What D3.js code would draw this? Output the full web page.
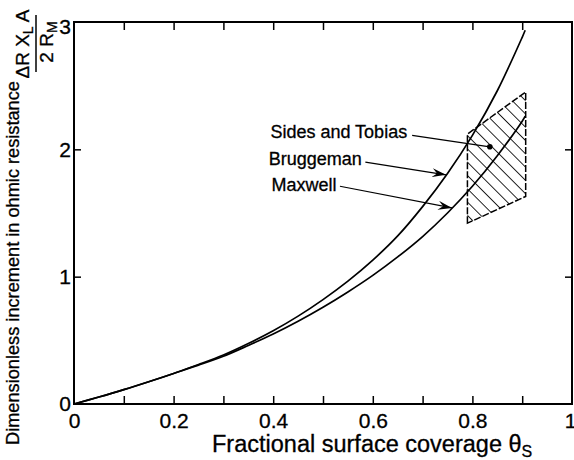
<!DOCTYPE html>
<html>
<head>
<meta charset="utf-8">
<script src="https://cdn.jsdelivr.net/npm/d3@7"></script>
<style>
  body { margin: 0; background: #fff; }
  svg { display: block; font-family: "Liberation Sans", Arial, sans-serif; }
  text { stroke: #000; stroke-width: 0.3px; }
</style>
</head>
<body>
<svg id="chart" width="574" height="460"></svg>
<script>
// values
const theta      = [0, 0.05, 0.1, 0.15, 0.2, 0.25, 0.3, 0.35, 0.4, 0.45, 0.5, 0.55, 0.6, 0.65, 0.7, 0.75, 0.8, 0.85, 0.9, 0.906];
const bruggeman  = [0, 0.055, 0.113, 0.175, 0.24, 0.31, 0.385, 0.475, 0.575, 0.69, 0.82, 0.965, 1.13, 1.32, 1.55, 1.81, 2.11, 2.46, 2.88, 2.935];
const maxwell    = [0, 0.055, 0.113, 0.175, 0.24, 0.305, 0.375, 0.46, 0.55, 0.65, 0.76, 0.88, 1.01, 1.155, 1.315, 1.50, 1.71, 1.95, 2.22, 2.26];

// Sides and Tobias experimental band (corners)
const bandTheta = [0.79, 0.79, 0.907, 0.907];
const bandValue = [1.42, 2.12, 2.45, 1.63];

const xTicks = [0.1, 0.2, 0.3, 0.4, 0.5, 0.6, 0.7, 0.8, 0.9];
const xLabelTicks = [0, 0.2, 0.4, 0.6, 0.8, 1];
const xTickLabels = ['0', '0.2', '0.4', '0.6', '0.8', '1'];
const yTicks = [1, 2];
const yLabelTicks = [0, 1, 2, 3];
const yTickLabels = ['0', '1', '2', '3'];

// annotations: label, text end point, leader start, leader end (data units)
const labelNames  = ['Sides and Tobias', 'Bruggeman', 'Maxwell'];
const labelTheta  = [0.669, 0.578, 0.527];
const labelValue  = [2.09, 1.88, 1.67];
const leaderFrom  = [[0.679, 2.11], [0.585, 1.90], [0.534, 1.71]];
const leaderTo    = [[0.835, 2.02], [0.747, 1.80], [0.759, 1.54]];

const margin = {top: 22, right: 2, bottom: 56, left: 74};
const svg = d3.select('#chart');
const svgWidth = +svg.attr('width');
const svgHeight = +svg.attr('height');
const innerWidth = svgWidth - margin.left - margin.right;
const innerHeight = svgHeight - margin.top - margin.bottom;

const xScale = d3.scaleLinear().domain([0, 1]).range([0, innerWidth]);
const yScale = d3.scaleLinear().domain([0, 3]).range([innerHeight, 0]);

const defs = svg.append('defs');
defs.append('pattern')
    .attr('id', 'hatch')
    .attr('patternUnits', 'userSpaceOnUse')
    .attr('width', 9.4)
    .attr('height', 9.4)
    .attr('patternTransform', 'rotate(-45)')
    .append('line')
    .attr('x1', 0).attr('y1', 0)
    .attr('x2', 0).attr('y2', 9.4)
    .attr('stroke', '#000')
    .attr('stroke-width', 1.7);

defs.append('marker')
    .attr('id', 'arrow')
    .attr('viewBox', '0 0 14 9')
    .attr('refX', 14)
    .attr('refY', 4.5)
    .attr('markerWidth', 14)
    .attr('markerHeight', 9)
    .attr('markerUnits', 'userSpaceOnUse')
    .attr('orient', 'auto')
    .append('path')
    .attr('d', 'M0,0 L14,4.5 L0,9 L5,4.5 Z')
    .attr('fill', '#000');

const chartGroup = svg.append('g')
    .attr('transform', `translate(${margin.left}, ${margin.top})`);

const fontTick = '21px';

// inward ticks on all four sides
chartGroup.append('g')
    .attr('transform', `translate(0, ${innerHeight})`)
    .call(d3.axisBottom(xScale).tickValues(xTicks).tickSize(-8).tickFormat(''))
    .call(g => g.select('.domain').remove());
chartGroup.append('g')
    .call(d3.axisTop(xScale).tickValues(xTicks).tickSize(-8).tickFormat(''))
    .call(g => g.select('.domain').remove());
chartGroup.append('g')
    .call(d3.axisLeft(yScale).tickValues(yTicks).tickSize(-7).tickFormat(''))
    .call(g => g.select('.domain').remove());
chartGroup.append('g')
    .attr('transform', `translate(${innerWidth}, 0)`)
    .call(d3.axisRight(yScale).tickValues(yTicks).tickSize(-7).tickFormat(''))
    .call(g => g.select('.domain').remove());
chartGroup.selectAll('.tick line').attr('stroke-width', 1.5);

// tick labels
chartGroup.append('g')
    .attr('transform', `translate(0, ${innerHeight})`)
    .call(d3.axisBottom(xScale).tickValues(xLabelTicks).tickSize(0).tickPadding(9)
        .tickFormat((d, i) => xTickLabels[i]))
    .call(g => g.select('.domain').remove())
    .selectAll('text')
    .style('font-size', fontTick)
    .style('font-family', '"Liberation Sans", Arial, sans-serif')
    .attr('fill', '#000')
    .attr('text-anchor', (d, i) => i === xTickLabels.length - 1 ? 'end' : 'middle')
    .attr('dx', (d, i) => i === xTickLabels.length - 1 ? 4 : 0);

chartGroup.append('g')
    .call(d3.axisLeft(yScale).tickValues(yLabelTicks).tickSize(0).tickPadding(3)
        .tickFormat((d, i) => yTickLabels[i]))
    .call(g => g.select('.domain').remove())
    .selectAll('text')
    .style('font-size', fontTick)
    .style('font-family', '"Liberation Sans", Arial, sans-serif')
    .attr('fill', '#000')
    .attr('dy', (d, i) => i === yTickLabels.length - 1 ? '0.55em' : '0.32em');

// frame
chartGroup.append('rect')
    .attr('width', innerWidth)
    .attr('height', innerHeight)
    .attr('fill', 'none')
    .attr('stroke', '#000')
    .attr('stroke-width', 2);

// hatched band
const bandPts = bandTheta.map((t, i) => [xScale(t), yScale(bandValue[i])]);
chartGroup.append('path')
    .attr('d', 'M' + bandPts.join('L') + 'Z')
    .attr('fill', 'url(#hatch)')
    .attr('stroke', '#000')
    .attr('stroke-width', 1.5)
    .attr('stroke-dasharray', '7,2');

// curves
const line = d3.line()
    .x(d => xScale(d[0]))
    .y(d => yScale(d[1]))
    .curve(d3.curveCatmullRom);

[bruggeman, maxwell].forEach(series => {
    chartGroup.append('path')
        .datum(theta.map((t, i) => [t, series[i]]))
        .attr('d', line)
        .attr('fill', 'none')
        .attr('stroke', '#000')
        .attr('stroke-width', 1.7);
});

// labels and leaders
labelNames.forEach((name, i) => {
    chartGroup.append('text')
        .attr('x', xScale(labelTheta[i]))
        .attr('y', yScale(labelValue[i]))
        .attr('text-anchor', 'end')
        .style('font-size', '18px')
        .text(name);

    chartGroup.append('line')
        .attr('x1', xScale(leaderFrom[i][0]))
        .attr('y1', yScale(leaderFrom[i][1]))
        .attr('x2', xScale(leaderTo[i][0]))
        .attr('y2', yScale(leaderTo[i][1]))
        .attr('stroke', '#000')
        .attr('stroke-width', 1.2)
        .attr('marker-end', i === 0 ? null : 'url(#arrow)');
});
chartGroup.append('circle')
    .attr('cx', xScale(leaderTo[0][0]))
    .attr('cy', yScale(leaderTo[0][1]))
    .attr('r', 2.8)
    .attr('fill', '#000');

// x axis title
const xTitle = svg.append('text')
    .attr('x', 212)
    .attr('y', 452)
    .style('font-size', '23.5px');
xTitle.append('tspan').text('Fractional surface coverage θ');
xTitle.append('tspan').attr('dy', 5).style('font-size', '16px').text('S');

// y axis title
svg.append('text')
    .attr('transform', 'translate(19, 263) rotate(-90)')
    .attr('text-anchor', 'middle')
    .style('font-size', '18.2px')
    .text('Dimensionless increment in ohmic resistance');

// fraction  ΔR X_L A / 2 R_M
const frac = svg.append('g')
    .attr('transform', 'translate(36, 44) rotate(-90)');
const num = frac.append('text')
    .attr('x', 0).attr('y', -7)
    .attr('text-anchor', 'middle')
    .style('font-size', '19px');
num.append('tspan').text('ΔR X');
num.append('tspan').attr('dy', 4).style('font-size', '14px').text('L');
num.append('tspan').attr('dy', -4).text(' A');
frac.append('line')
    .attr('x1', -28).attr('x2', 29)
    .attr('y1', 0).attr('y2', 0)
    .attr('stroke', '#000')
    .attr('stroke-width', 1.5);
const den = frac.append('text')
    .attr('x', 2).attr('y', 17)
    .attr('text-anchor', 'middle')
    .style('font-size', '19px');
den.append('tspan').text('2 R');
den.append('tspan').attr('dy', 4).style('font-size', '14px').text('M');
</script>
</body>
</html>
